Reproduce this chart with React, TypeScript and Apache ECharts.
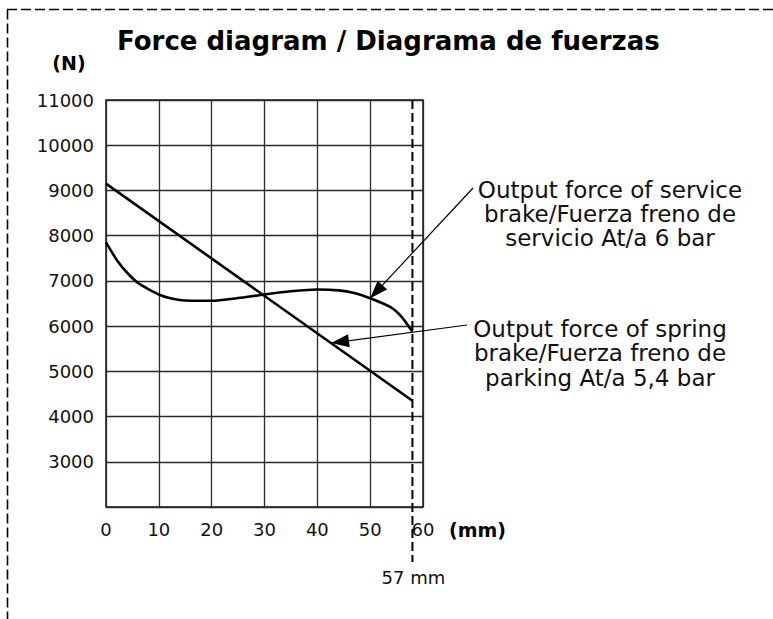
import React, { useEffect, useRef } from 'react';
import * as echarts from 'echarts';

// ---- data ----
const xMin = 0;
const xMax = 60;
const xStep = 10;
const yMin = 2000;
const yMax = 11000;
const yStep = 1000;
const hiddenYLabels = [2000];

const serviceX = [0, 2, 4, 6, 8, 10, 12, 15, 20, 25, 30, 35, 40, 44, 47, 50, 54, 56, 58];
const serviceY = [7850, 7470, 7180, 6960, 6820, 6700, 6620, 6565, 6560, 6620, 6700, 6770, 6810, 6790, 6730, 6615, 6410, 6200, 5875];

const springX = [0, 58];
const springY = [9150, 4350];

const strokeX = 58;
const strokeLabel = '57 mm';

const titleText = 'Force diagram / Diagrama de fuerzas';
const yUnit = '(N)';
const xUnit = '(mm)';
const serviceLabel = ['Output force of service', 'brake/Fuerza freno de', 'servicio At/a 6 bar'];
const springLabel = ['Output force of spring', 'brake/Fuerza freno de', 'parking At/a 5,4 bar'];
const serviceArrowTip = [50, 6615];
const springArrowTip = [42.6, 5624];

const FONT = 'DejaVu Sans';

function arrowHead(tail: number[], tip: number[], len: number, half: number) {
  const dx = tip[0] - tail[0];
  const dy = tip[1] - tail[1];
  const d = Math.sqrt(dx * dx + dy * dy);
  const ux = dx / d;
  const uy = dy / d;
  const bx = tip[0] - ux * len;
  const by = tip[1] - uy * len;
  const nx = -uy;
  const ny = ux;
  return [
    [tip[0], tip[1]],
    [bx + nx * half, by + ny * half],
    [bx - nx * half, by - ny * half],
  ];
}

export default function App() {
  const ref = useRef<HTMLDivElement>(null);

  useEffect(() => {
    if (!ref.current) return;
    const chart = echarts.init(ref.current, null, { renderer: 'svg' });
    chart.setOption({
      animation: false,
      backgroundColor: '#ffffff',
      grid: {
        left: 106,
        right: 350,
        top: 100,
        bottom: 112,
        show: true,
        borderColor: '#111',
        borderWidth: 1.5,
        backgroundColor: 'transparent',
      },
      xAxis: {
        type: 'value',
        min: xMin,
        max: xMax,
        interval: xStep,
        axisLine: { show: false },
        axisTick: { show: false },
        splitLine: { show: true, lineStyle: { color: '#2a2a2a', width: 1.3 } },
        axisLabel: { fontFamily: FONT, fontSize: 18, color: '#111', margin: 13 },
      },
      yAxis: {
        type: 'value',
        min: yMin,
        max: yMax,
        interval: yStep,
        axisLine: { show: false },
        axisTick: { show: false },
        splitLine: { show: true, lineStyle: { color: '#2a2a2a', width: 1.3 } },
        axisLabel: {
          fontFamily: FONT,
          fontSize: 18,
          color: '#111',
          margin: 12,
          formatter: (v: number) => (hiddenYLabels.includes(v) ? '' : String(v)),
        },
      },
      series: [
        {
          type: 'line',
          name: 'service',
          data: serviceX.map((x, i) => [x, serviceY[i]]),
          smooth: 0.2,
          showSymbol: false,
          lineStyle: { color: '#000', width: 2.6 },
          z: 3,
        },
        {
          type: 'line',
          name: 'spring',
          data: springX.map((x, i) => [x, springY[i]]),
          showSymbol: false,
          lineStyle: { color: '#000', width: 2.6 },
          z: 3,
        },
      ],
    });

    const px = (v: number[]) => chart.convertToPixel({ gridIndex: 0 }, v) as number[];
    const dashTop = px([strokeX, yMax]);
    const tip1 = px(serviceArrowTip);
    const tip2 = px(springArrowTip);
    const tail1 = [473, 188];
    const tail2 = [467, 325];

    chart.setOption({
      graphic: [
        {
          type: 'line',
          z: 10,
          shape: { x1: 7, y1: 9.5, x2: 773, y2: 9.5 },
          style: { stroke: '#000', lineWidth: 1.6, lineDash: [10, 4] },
        },
        {
          type: 'line',
          z: 10,
          shape: { x1: 7.5, y1: 9.5, x2: 7.5, y2: 619 },
          style: { stroke: '#000', lineWidth: 1.6, lineDash: [10, 4] },
        },
        {
          type: 'text',
          z: 10,
          x: 117,
          y: 41,
          style: {
            text: titleText,
            fontFamily: FONT,
            fontWeight: 'bold',
            fontSize: 26,
            fill: '#000',
            align: 'left',
            verticalAlign: 'middle',
          },
        },
        {
          type: 'text',
          z: 10,
          x: 69,
          y: 63,
          style: {
            text: yUnit,
            fontFamily: FONT,
            fontWeight: 'bold',
            fontSize: 19,
            fill: '#000',
            align: 'center',
            verticalAlign: 'middle',
          },
        },
        {
          type: 'text',
          z: 10,
          x: 449,
          y: 530,
          style: {
            text: xUnit,
            fontFamily: FONT,
            fontWeight: 'bold',
            fontSize: 19,
            fill: '#000',
            align: 'left',
            verticalAlign: 'middle',
          },
        },
        {
          type: 'line',
          z: 10,
          shape: { x1: dashTop[0], y1: dashTop[1], x2: dashTop[0], y2: 562 },
          style: { stroke: '#000', lineWidth: 2, lineDash: [9, 4] },
        },
        {
          type: 'text',
          z: 10,
          x: dashTop[0] + 1,
          y: 577,
          style: {
            text: strokeLabel,
            fontFamily: FONT,
            fontSize: 18,
            fill: '#111',
            align: 'center',
            verticalAlign: 'middle',
          },
        },
        {
          type: 'text',
          z: 10,
          x: 610,
          y: 214,
          style: {
            text: serviceLabel.join('\n'),
            fontFamily: FONT,
            fontSize: 23,
            lineHeight: 24,
            fill: '#111',
            align: 'center',
            verticalAlign: 'middle',
          },
        },
        {
          type: 'text',
          z: 10,
          x: 600,
          y: 353,
          style: {
            text: springLabel.join('\n'),
            fontFamily: FONT,
            fontSize: 23,
            lineHeight: 24.5,
            fill: '#111',
            align: 'center',
            verticalAlign: 'middle',
          },
        },
        {
          type: 'line',
          z: 10,
          shape: { x1: tail1[0], y1: tail1[1], x2: tip1[0], y2: tip1[1] },
          style: { stroke: '#000', lineWidth: 1.2 },
        },
        {
          type: 'polygon',
          z: 11,
          shape: { points: arrowHead(tail1, tip1, 18, 6.5) },
          style: { fill: '#000' },
        },
        {
          type: 'line',
          z: 10,
          shape: { x1: tail2[0], y1: tail2[1], x2: tip2[0], y2: tip2[1] },
          style: { stroke: '#000', lineWidth: 1.2 },
        },
        {
          type: 'polygon',
          z: 11,
          shape: { points: arrowHead(tail2, tip2, 18, 6.5) },
          style: { fill: '#000' },
        },
      ],
    });

    return () => chart.dispose();
  }, []);

  return (
    <div
      ref={ref}
      style={{ position: 'absolute', left: 0, top: 0, width: 773, height: 619, background: '#fff' }}
    />
  );
}
